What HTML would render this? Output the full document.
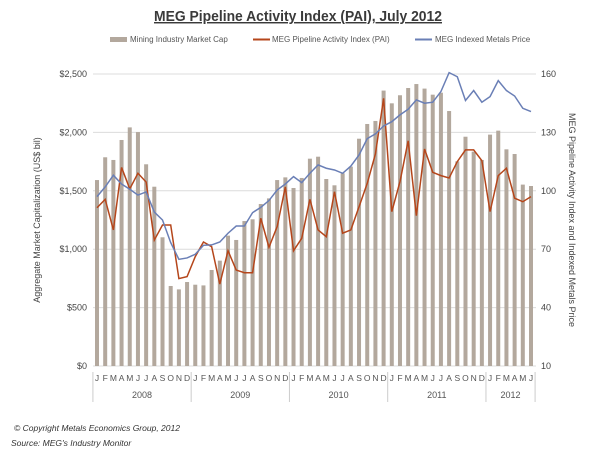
<!DOCTYPE html>
<html><head><meta charset="utf-8"><style>
body{margin:0;background:#fff;}
svg text{font-family:"Liberation Sans",sans-serif;}
</style></head><body>
<svg id="chart" width="600" height="457" viewBox="0 0 600 457" xmlns="http://www.w3.org/2000/svg">
<text x="154" y="21" font-size="14.5" font-weight="bold" fill="#3a3a3a" text-decoration="underline" textLength="288" lengthAdjust="spacingAndGlyphs">MEG Pipeline Activity Index (PAI), July 2012</text>
<g font-size="8" fill="#555">
<g><rect x="110" y="37" width="17" height="5" fill="#b3a89d"/><text x="130" y="42">Mining Industry Market Cap</text></g>
<g><line x1="253" y1="39.5" x2="270" y2="39.5" stroke="#b5461b" stroke-width="2"/><text x="272" y="42">MEG Pipeline Activity Index (PAI)</text></g>
<g><line x1="415" y1="39.5" x2="432" y2="39.5" stroke="#6a7fb6" stroke-width="2"/><text x="435" y="42">MEG Indexed Metals Price</text></g>
</g>
<g id="grid"></g><g id="bars"></g><g id="lines"></g><g id="axes"></g>
<text transform="translate(40,220) rotate(-90)" text-anchor="middle" font-size="9" fill="#444">Aggregate Market Capitalization (US$ bil)</text>
<text transform="translate(569,220) rotate(90)" text-anchor="middle" font-size="9" fill="#444">MEG Pipeline Activity Index and Indexed Metals Price</text>
<text x="14" y="431" font-size="8.5" font-style="italic" fill="#333">© Copyright Metals Economics Group, 2012</text>
<text x="11" y="446" font-size="8.5" font-style="italic" fill="#333">Source: MEG's Industry Monitor</text>
</svg>
<script>
const years = ["2008","2009","2010","2011","2012"];
const monthLetters = ["J","F","M","A","M","J","J","A","S","O","N","D"];
const marketCap = [1592,1787,1764,1935,2043,2003,1727,1535,1102,685,656,719,
 696,690,822,902,1116,1079,1241,1256,1387,1435,1592,1615,
 1524,1610,1775,1792,1601,1547,1650,1707,1946,2072,2098,2358,
 2249,2318,2380,2414,2375,2323,2340,2183,1752,1963,1835,1764,
 1981,2015,1855,1815,1553,1541];
const paiIndex = [91.3,95.6,79.9,112,101,109,104.5,74.7,82.4,82.4,54.9,55.9,
 66.2,73.7,71.3,52.1,69.2,59.3,57.9,57.9,85.9,71,81.6,102,
 69.2,75.6,95.6,79.9,76.4,99.5,78.2,79.9,91.8,103.8,118.9,147.5,
 89.3,104.7,125.7,87.2,121.5,109.5,107.8,106.6,115,121,121,115.5,
 89.3,107.8,111.6,96.2,94.4,97];
const metalsPrice = [97,102,108,103.5,100.8,97.8,99.4,89.1,85,73.4,64.8,65.5,
 67.4,72,72.2,73.7,78.2,81.9,81.9,88.8,91.5,95,100.4,103.5,
 107.3,104.2,109,113.3,111.6,110.7,109,112.7,118.4,126.8,129.2,133.3,
 135.5,139,141.9,146.7,145,145.5,151,160.7,158.6,146.4,151.5,145.5,
 148.4,156.6,151.5,148.7,142.4,140.7];
const leftTicks = [0,500,1000,1500,2000,2500];
const leftTickLabels = ["$0","$500","$1,000","$1,500","$2,000","$2,500"];
const rightTicks = [10,40,70,100,130,160];

const NS="http://www.w3.org/2000/svg";
const x0=97, step=434/53, yBase=366, yTop=74;
const xPos=i=>x0+i*step;
const yLeft=v=>yBase-(v/2500)*(yBase-yTop);
const yRight=v=>yBase-((v-10)/150)*(yBase-yTop);
function mk(tag,attrs,parent){const e=document.createElementNS(NS,tag);for(const k in attrs)e.setAttribute(k,attrs[k]);parent.appendChild(e);return e;}
const grid=document.getElementById('grid'),bars=document.getElementById('bars'),lines=document.getElementById('lines'),axes=document.getElementById('axes');
leftTicks.forEach((t,i)=>{
  const y=yLeft(t);
  const g=mk('line',{x1:93,x2:536,y1:y,y2:y,stroke:'#dcdcdc','stroke-width':1},grid);
  
  
  const lt=mk('text',{x:87,y:y+3,'text-anchor':'end','font-size':9,fill:'#444'},axes);
  lt.textContent=leftTickLabels[i];
  
  
});
rightTicks.forEach(t=>{
  const rt=mk('text',{x:541,y:yRight(t)+3,'font-size':9,fill:'#444'},axes);
  rt.textContent=t;
  
  
});
marketCap.forEach((v,i)=>{
  const b=mk('rect',{x:xPos(i)-2,y:yLeft(v),width:4,height:yBase-yLeft(v),fill:'#b3a89d'},bars);
  
  
  const m=mk('text',{x:xPos(i),y:381,'text-anchor':'middle','font-size':8.5,fill:'#555'},axes);
  m.textContent=monthLetters[i%12];
  
  
});
years.forEach((yr,k)=>{
  const xs=x0-step/2+k*12*step;
  const sep=mk('line',{x1:xs,x2:xs,y1:372,y2:402,stroke:'#ccc','stroke-width':1},axes);
  
  
  const n=Math.min(12,marketCap.length-k*12);
  const yt=mk('text',{x:xs+n*step/2,y:398,'text-anchor':'middle','font-size':9,fill:'#555'},axes);
  yt.textContent=yr;
  
  
});
const endSep=x0+53*step+step/2;
const es=mk('line',{x1:endSep,x2:endSep,y1:372,y2:402,stroke:'#ccc','stroke-width':1},axes);


const pai=mk('polyline',{points:paiIndex.map((v,i)=>xPos(i)+','+yRight(v)).join(' '),fill:'none',stroke:'#b5461b','stroke-width':1.5},lines);


const mp=mk('polyline',{points:metalsPrice.map((v,i)=>xPos(i)+','+yRight(v)).join(' '),fill:'none',stroke:'#6a7fb6','stroke-width':1.5},lines);


</script>
</body></html>
